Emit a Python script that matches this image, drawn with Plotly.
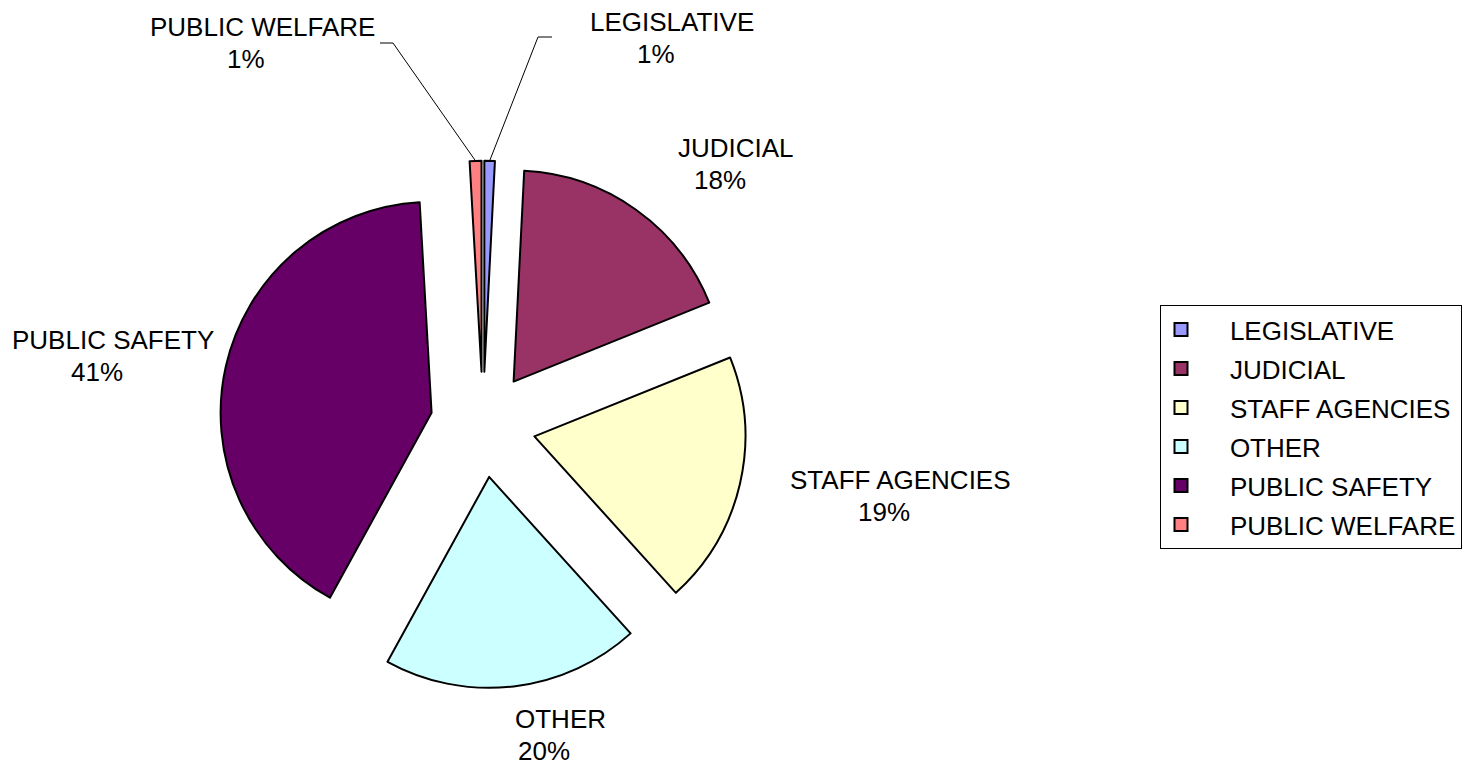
import math
import plotly.graph_objects as go

# ---------------- data ----------------
categories = ["LEGISLATIVE", "JUDICIAL", "STAFF AGENCIES", "OTHER",
              "PUBLIC SAFETY", "PUBLIC WELFARE"]
values = [0.8, 18.1, 19.4, 19.7, 41.1, 0.9]
colors = ["#9999FF", "#993366", "#FFFFCC", "#CCFFFF", "#660066", "#FF8080"]

# ---------------- layout constants ----------------
W, H = 1467, 766
PULL = 0.25
DOM_X = [0.1495, 0.5090]
DOM_Y = [0.1015, 0.7901]
FONT = "Liberation Sans, Arial, sans-serif"
FS = 26

# pixel centres of each label's name line (pct line sits below, shifted left)
label_name_pos = {
    "LEGISLATIVE": (672, 22),
    "JUDICIAL": (736, 148),
    "STAFF AGENCIES": (900, 480),
    "OTHER": (560, 719),
    "PUBLIC SAFETY": (113, 340),
    "PUBLIC WELFARE": (262, 27),
}
PCT_DX, PCT_DY = -16, 32
# leader-line elbows (pixel): (outer end, elbow)
leader_elbows = {
    "PUBLIC WELFARE": ((380, 43), (393, 43)),
    "LEGISLATIVE": ((552, 37), (538, 37)),
}

fig = go.Figure()
fig.add_trace(go.Pie(
    labels=categories,
    values=values,
    sort=False,
    direction="clockwise",
    rotation=0,
    pull=[PULL] * len(values),
    marker=dict(colors=colors, line=dict(color="black", width=2)),
    textinfo="none",
    hoverinfo="label+percent",
    domain=dict(x=DOM_X, y=DOM_Y),
    showlegend=False,
))

# legend entries (one per category, square swatches)
LEGEND_PAD = "\u00a0" * 4
for cat, c in zip(categories, colors):
    fig.add_trace(go.Scatter(
        x=[None], y=[None], mode="markers", name=LEGEND_PAD + cat,
        legendgroup=cat, hoverinfo="skip",
        marker=dict(symbol="square", size=13, color=c,
                    line=dict(color="black", width=2)),
    ))

total = sum(values)
annotations = []
for cat, v in zip(categories, values):
    pct = int(v / total * 100 + 0.5)
    nx, ny = label_name_pos[cat]
    annotations.append(dict(x=nx / W, y=1 - ny / H, xref="paper", yref="paper",
                            text=cat, showarrow=False, xanchor="center",
                            yanchor="middle", font=dict(family=FONT, size=FS, color="black")))
    annotations.append(dict(x=(nx + PCT_DX) / W, y=1 - (ny + PCT_DY) / H,
                            xref="paper", yref="paper", text=f"{pct}%",
                            showarrow=False, xanchor="center", yanchor="middle",
                            font=dict(family=FONT, size=FS, color="black")))

# geometry of the pie for leader lines
cx = W * (DOM_X[0] + DOM_X[1]) / 2
cy = H * (1 - (DOM_Y[0] + DOM_Y[1]) / 2)
side = min(W * (DOM_X[1] - DOM_X[0]), H * (DOM_Y[1] - DOM_Y[0]))
r = side / 2 / (1 + PULL)
shapes = []
cum = 0
for cat, v in zip(categories, values):
    start = cum
    cum += v
    if cat in leader_elbows:
        mid = (start + cum) / 2 / total * 2 * math.pi
        ex = cx + r * (1 + PULL) * math.sin(mid)
        ey = cy - r * (1 + PULL) * math.cos(mid)
        (ax, ay), (bx, by) = leader_elbows[cat]
        path = (f"M {ax / W},{1 - ay / H} L {bx / W},{1 - by / H} "
                f"L {ex / W},{1 - ey / H}")
        shapes.append(dict(type="path", xref="paper", yref="paper", path=path,
                           line=dict(color="black", width=1)))

fig.update_layout(
    width=W, height=H,
    margin=dict(l=0, r=0, t=0, b=0),
    paper_bgcolor="white", plot_bgcolor="white",
    font=dict(family=FONT, size=FS, color="black"),
    showlegend=True,
    xaxis=dict(visible=False),
    yaxis=dict(visible=False),
    legend=dict(
        x=1160 / W, y=1 - 305 / H, xanchor="left", yanchor="top",
        bordercolor="black", borderwidth=1, bgcolor="white",
        font=dict(family=FONT, size=FS, color="black"),
        tracegroupgap=2.2,
        traceorder="grouped",
    ),
    annotations=annotations,
    shapes=shapes,
)

fig.write_html("out.html", config={"displayModeBar": False},
               post_script="document.body.style.margin='0';")
